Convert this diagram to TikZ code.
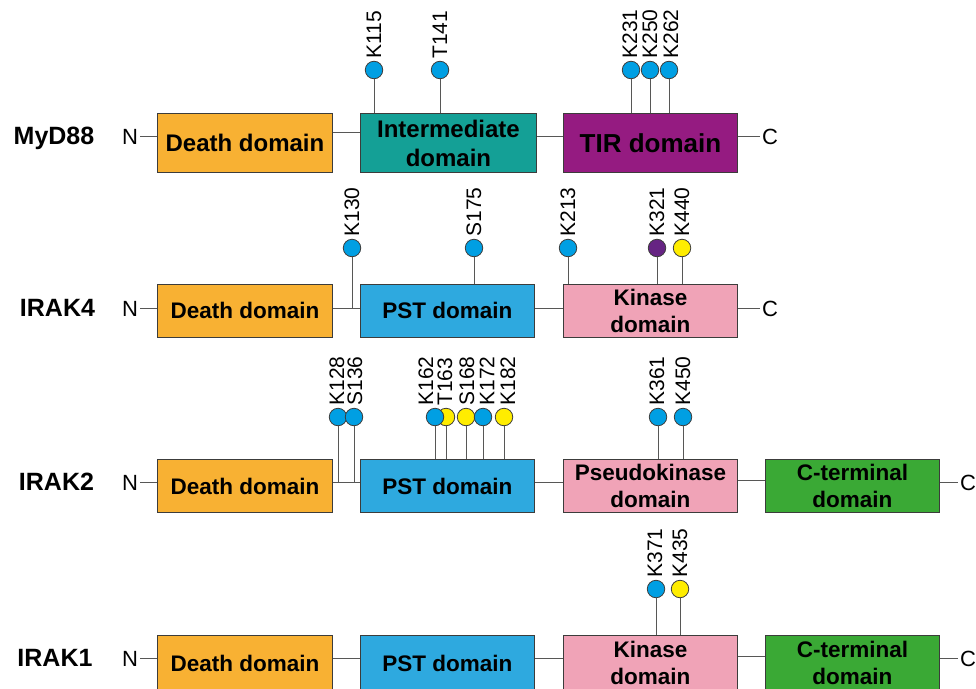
\documentclass[tikz,border=0pt]{standalone}
\usepackage{fontspec}
\setmainfont{Liberation Sans}
\definecolor{ddorange}{HTML}{F8B133}
\definecolor{interteal}{HTML}{14A096}
\definecolor{tirpurple}{HTML}{951B81}
\definecolor{pstblue}{HTML}{2EA9DF}
\definecolor{kinpink}{HTML}{F0A3B7}
\definecolor{ctgreen}{HTML}{3AA935}
\definecolor{siteblue}{HTML}{009FE3}
\definecolor{siteyellow}{HTML}{FFED00}
\definecolor{sitepurple}{HTML}{662483}
\definecolor{boxline}{HTML}{3C3C3B}
\definecolor{linegray}{HTML}{575756}
\begin{document}
\begin{tikzpicture}[x=1pt,y=-1pt,
  dom/.style={draw=boxline, line width=0.9pt, inner sep=0pt, align=center, anchor=north west,
    font=\bfseries\fontsize{22.5}{27}\selectfont},
  conn/.style={draw=linegray, line width=1pt},
  stem/.style={draw=linegray, line width=1pt},
  site/.style={circle, draw=boxline, line width=0.8pt, minimum size=17.5pt, inner sep=0pt},
  lab/.style={rotate=90, anchor=west, inner sep=2pt, font=\fontsize{21}{21}\selectfont},
  term/.style={anchor=base, inner sep=2pt, font=\fontsize{22}{22}\selectfont},
  prot/.style={anchor=base, inner sep=0pt, font=\bfseries\fontsize{25}{25}\selectfont}]
\useasboundingbox (0,0) rectangle (976,688);
\fill[white] (0,0) rectangle (976,688);

% ---------------- MyD88 ----------------
\coordinate (r1) at (0,136);
\coordinate (r1b) at (0,132);
\node[prot] (p1) at (54,144) {MyD88};
\node[term] (n1) at (130,144) {N};
\node[dom, fill=ddorange, minimum width=175pt, minimum height=59pt, font=\bfseries\fontsize{24}{28}\selectfont] (a1) at (157,113) {Death domain};
\node[dom, fill=interteal, minimum width=176pt, minimum height=59pt, font=\bfseries\fontsize{24}{29}\selectfont] (b1) at (360,113) {Intermediate\\domain};
\node[dom, fill=tirpurple, minimum width=174pt, minimum height=59pt, font=\bfseries\fontsize{26}{30}\selectfont] (c1) at (563,113) {TIR domain};
\node[term] (e1) at (770,144) {C};
\draw[conn] (n1.east |- r1) -- (a1.west |- r1);
\draw[conn] (a1.east |- r1b) -- (b1.west |- r1b);
\draw[conn] (b1.east |- r1) -- (c1.west |- r1);
\draw[conn] (c1.east |- r1) -- (e1.west |- r1);

\node[site, fill=siteblue] (k115) at (374,70) {};
\node[site, fill=siteblue] (t141) at (440,70) {};
\node[site, fill=siteblue] (k231) at (631,70) {};
\node[site, fill=siteblue] (k250) at (650,70) {};
\node[site, fill=siteblue] (k262) at (669,70) {};
\foreach \s in {k115,t141} \draw[stem] (\s.south) -- (\s |- b1.north);
\foreach \s in {k231,k250,k262} \draw[stem] (\s.south) -- (\s |- c1.north);
\node[lab] at (k115.north) {K115};
\node[lab] at (t141.north) {T141};
\node[lab] at ([xshift=-1pt]k231.north) {K231};
\node[lab] at (k250.north) {K250};
\node[lab] at ([xshift=2pt]k262.north) {K262};

% ---------------- IRAK4 ----------------
\coordinate (r2) at (0,308);
\node[prot] (p2) at (57.5,316.5) {IRAK4};
\node[term] (n2) at (130,316.5) {N};
\node[dom, fill=ddorange, minimum width=175pt, minimum height=53pt] (a2) at (157,284) {Death domain};
\node[dom, fill=pstblue, minimum width=174pt, minimum height=53pt] (b2) at (360,284) {PST domain};
\node[dom, fill=kinpink, minimum width=174pt, minimum height=53pt] (c2) at (563,284) {Kinase\\domain};
\node[term] (e2) at (770,316.5) {C};
\draw[conn] (n2.east |- r2) -- (a2.west |- r2);
\draw[conn] (a2.east |- r2) -- (b2.west |- r2);
\draw[conn] (b2.east |- r2) -- (c2.west |- r2);
\draw[conn] (c2.east |- r2) -- (e2.west |- r2);

\node[site, fill=siteblue] (k130) at (352,248) {};
\node[site, fill=siteblue] (s175) at (474,248) {};
\node[site, fill=siteblue] (k213) at (568,248) {};
\node[site, fill=sitepurple] (k321) at (657,248) {};
\node[site, fill=siteyellow] (k440) at (682,248) {};
\draw[stem] (k130.south) -- (k130 |- r2);
\draw[stem] (s175.south) -- (s175 |- b2.north);
\foreach \s in {k213,k321,k440} \draw[stem] (\s.south) -- (\s |- c2.north);
\node[lab] at (k130.north) {K130};
\node[lab] at (s175.north) {S175};
\node[lab] at (k213.north) {K213};
\node[lab] at (k321.north) {K321};
\node[lab] at (k440.north) {K440};

% ---------------- IRAK2 ----------------
\coordinate (r3) at (0,482);
\coordinate (r3b) at (0,480);
\node[prot] (p3) at (56.5,490.5) {IRAK2};
\node[term] (n3) at (130,490.5) {N};
\node[dom, fill=ddorange, minimum width=175pt, minimum height=53pt] (a3) at (157,459) {Death domain};
\node[dom, fill=pstblue, minimum width=174pt, minimum height=53pt] (b3) at (360,459) {PST domain};
\node[dom, fill=kinpink, minimum width=174pt, minimum height=53pt] (c3) at (563,459) {Pseudokinase\\domain};
\node[dom, fill=ctgreen, minimum width=174pt, minimum height=53pt] (d3) at (765,459) {C-terminal\\domain};
\node[term] (e3) at (968,490.5) {C};
\draw[conn] (n3.east |- r3) -- (a3.west |- r3);
\draw[conn] (a3.east |- r3) -- (b3.west |- r3);
\draw[conn] (b3.east |- r3) -- (c3.west |- r3);
\draw[conn] (c3.east |- r3b) -- (d3.west |- r3b);
\draw[conn] (d3.east |- r3) -- (e3.west |- r3);

\node[site, fill=siteblue] (k128) at (338,417) {};
\node[site, fill=siteblue] (s136) at (354,417) {};
\node[site, fill=siteyellow] (t163) at (446,417) {};
\node[site, fill=siteblue] (k162) at (435,417) {};
\node[site, fill=siteyellow] (s168) at (466,417) {};
\node[site, fill=siteblue] (k172) at (483,417) {};
\node[site, fill=siteyellow] (k182) at (504,417) {};
\node[site, fill=siteblue] (k361) at (658,417) {};
\node[site, fill=siteblue] (k450) at (683,417) {};
\foreach \s in {k128,s136} \draw[stem] (\s.south) -- (\s |- r3);
\foreach \s in {k162,t163,s168,k172,k182} \draw[stem] (\s.south) -- (\s |- b3.north);
\foreach \s in {k361,k450} \draw[stem] (\s.south) -- (\s |- c3.north);
\node[lab] at ([xshift=-1pt]k128.north) {K128};
\node[lab] at ([xshift=1pt]s136.north) {S136};
\node[lab] at ([xshift=-9pt]k162.north) {K162};
\node[lab] at ([xshift=-1pt]t163.north) {T163};
\node[lab] at ([xshift=1pt]s168.north) {S168};
\node[lab] at ([xshift=4pt]k172.north) {K172};
\node[lab] at ([xshift=4pt]k182.north) {K182};
\node[lab] at ([xshift=-1pt]k361.north) {K361};
\node[lab] at (k450.north) {K450};

% ---------------- IRAK1 ----------------
\coordinate (r4) at (0,658);
\coordinate (r4b) at (0,656);
\node[prot] (p4) at (55,666.5) {IRAK1};
\node[term] (n4) at (130,666.5) {N};
\node[dom, fill=ddorange, minimum width=175pt, minimum height=55pt] (a4) at (157,635) {Death domain};
\node[dom, fill=pstblue, minimum width=174pt, minimum height=55pt] (b4) at (360,635) {PST domain};
\node[dom, fill=kinpink, minimum width=174pt, minimum height=55pt] (c4) at (563,635) {Kinase\\domain};
\node[dom, fill=ctgreen, minimum width=174pt, minimum height=55pt] (d4) at (765,635) {C-terminal\\domain};
\node[term] (e4) at (968,666.5) {C};
\draw[conn] (n4.east |- r4) -- (a4.west |- r4);
\draw[conn] (a4.east |- r4) -- (b4.west |- r4);
\draw[conn] (b4.east |- r4) -- (c4.west |- r4);
\draw[conn] (c4.east |- r4b) -- (d4.west |- r4b);
\draw[conn] (d4.east |- r4) -- (e4.west |- r4);

\node[site, fill=siteblue] (k371) at (656,589) {};
\node[site, fill=siteyellow] (k435) at (680,589) {};
\foreach \s in {k371,k435} \draw[stem] (\s.south) -- (\s |- c4.north);
\node[lab] at ([xshift=-1pt]k371.north) {K371};
\node[lab] at (k435.north) {K435};
\end{tikzpicture}
\end{document}
